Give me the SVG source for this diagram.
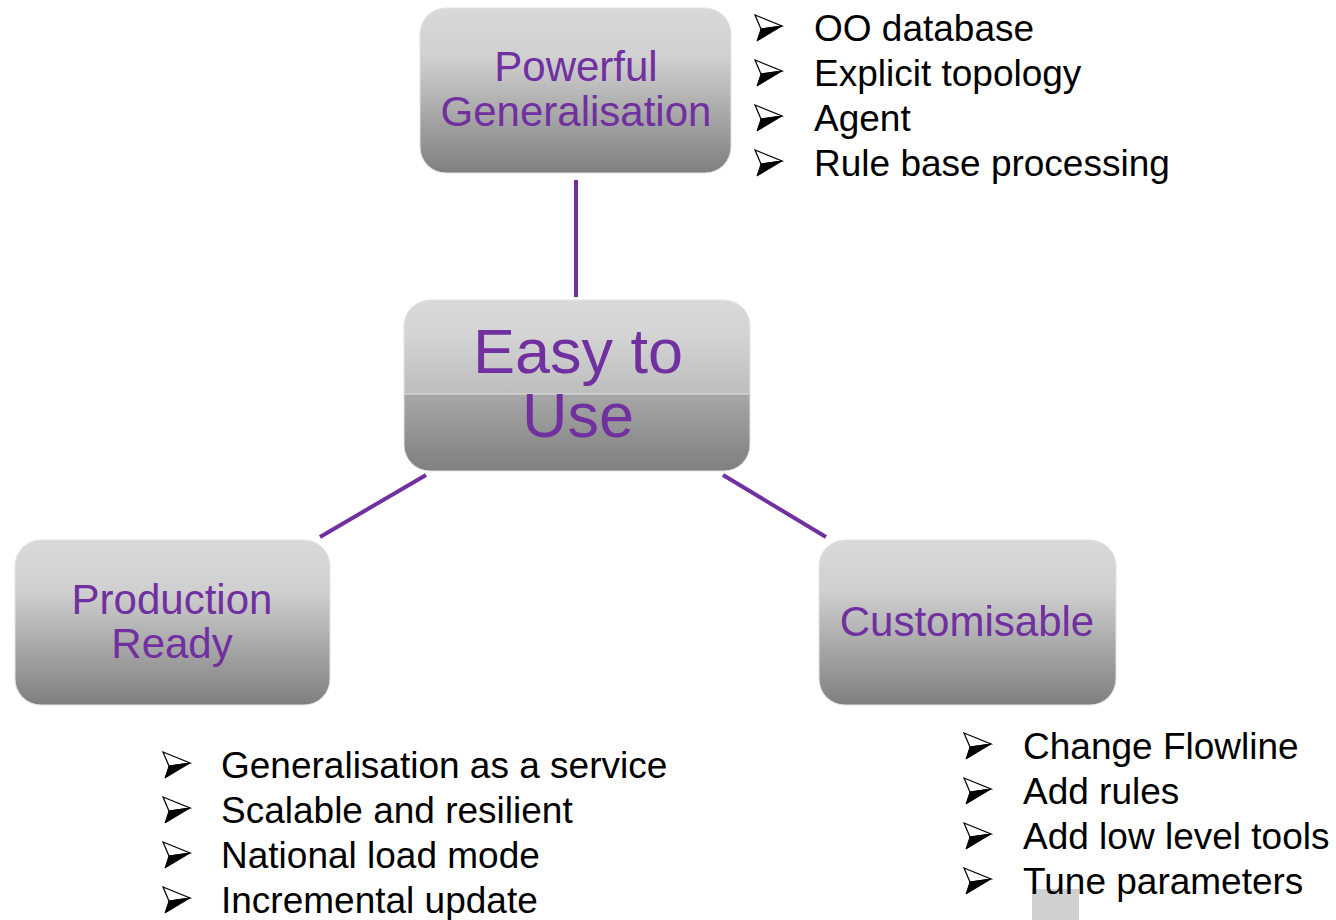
<svg xmlns="http://www.w3.org/2000/svg" width="1336" height="920" viewBox="0 0 1336 920">
  <defs>
    <linearGradient id="g" x1="0" y1="0" x2="0" y2="1">
      <stop offset="0" stop-color="#d9d9d9"/>
      <stop offset="0.3" stop-color="#d0d0d0"/>
      <stop offset="1" stop-color="#7f7f7f"/>
    </linearGradient>
    <linearGradient id="g2" x1="0" y1="0" x2="0" y2="1">
      <stop offset="0" stop-color="#d9d9d9"/>
      <stop offset="0.2" stop-color="#d4d4d4"/>
      <stop offset="0.55" stop-color="#bdbdbd"/>
      <stop offset="0.55" stop-color="#a7a7a7"/>
      <stop offset="1" stop-color="#7f7f7f"/>
    </linearGradient>
    <g id="bullet">
      <path d="M0,0 L27,11 L6,14 Z" fill="#ffffff" stroke="#000" stroke-width="1.2" stroke-linejoin="miter"/>
      <path d="M6,14 L27,11 L2,26 Z" fill="#000" stroke="#000" stroke-width="1"/>
    </g>
  </defs>
  <style>
    .box { stroke: #e4e4e4; stroke-width: 1; }
    .lbl { font-family: "Liberation Sans", Arial, sans-serif; fill: #7030a0; text-anchor: middle; }
    .item { font-family: "Liberation Sans", Arial, sans-serif; fill: #000; font-size: 37px; }
    .conn { stroke: #7030a0; stroke-width: 4; fill: none; }
  </style>
  <rect width="1336" height="920" fill="#fff"/>

  <g id="connectors">
    <line class="conn" x1="576" y1="180" x2="576" y2="297"/>
    <line class="conn" x1="320" y1="537" x2="426" y2="475"/>
    <line class="conn" x1="723" y1="475" x2="826" y2="537"/>
  </g>

  <g id="node-powerful">
    <rect class="box" x="420" y="8" width="311" height="165" rx="26" fill="url(#g)"/>
    <text class="lbl" x="576" y="81" font-size="42">Powerful</text>
    <text class="lbl" x="576" y="126" font-size="42">Generalisation</text>
  </g>

  <g id="node-easy">
    <rect class="box" x="404" y="300" width="346" height="171" rx="26" fill="url(#g2)"/>
    <line x1="405" y1="394" x2="749" y2="394" stroke="#e2e2e2" stroke-width="1"/>
    <text class="lbl" x="578" y="373" font-size="63">Easy to</text>
    <text class="lbl" x="578" y="437" font-size="63">Use</text>
  </g>

  <g id="node-production">
    <rect class="box" x="15" y="540" width="315" height="165" rx="26" fill="url(#g)"/>
    <text class="lbl" x="172" y="614" font-size="42">Production</text>
    <text class="lbl" x="172" y="658" font-size="42">Ready</text>
  </g>

  <g id="node-custom">
    <rect class="box" x="819" y="540" width="297" height="165" rx="26" fill="url(#g)"/>
    <text class="lbl" x="967" y="636" font-size="42">Customisable</text>
  </g>

  <g id="list-top">
    <use href="#bullet" x="755" y="15"/>
    <use href="#bullet" x="755" y="60"/>
    <use href="#bullet" x="755" y="105"/>
    <use href="#bullet" x="755" y="150"/>
    <text class="item" x="814" y="41">OO database</text>
    <text class="item" x="814" y="86">Explicit topology</text>
    <text class="item" x="814" y="131">Agent</text>
    <text class="item" x="814" y="176">Rule base processing</text>
  </g>

  <g id="list-bottom-left">
    <use href="#bullet" x="163" y="752"/>
    <use href="#bullet" x="163" y="797"/>
    <use href="#bullet" x="163" y="842"/>
    <use href="#bullet" x="163" y="887"/>
    <text class="item" x="221" y="778">Generalisation as a service</text>
    <text class="item" x="221" y="823">Scalable and resilient</text>
    <text class="item" x="221" y="868">National load mode</text>
    <text class="item" x="221" y="913">Incremental update</text>
  </g>

  <g id="list-bottom-right">
    <rect x="1032" y="889" width="47" height="31" fill="#d0d0d0"/>
    <use href="#bullet" x="964" y="733"/>
    <use href="#bullet" x="964" y="778"/>
    <use href="#bullet" x="964" y="823"/>
    <use href="#bullet" x="964" y="868"/>
    <text class="item" x="1023" y="759">Change Flowline</text>
    <text class="item" x="1023" y="804">Add rules</text>
    <text class="item" x="1023" y="849">Add low level tools</text>
    <text class="item" x="1023" y="894">Tune parameters</text>
  </g>
</svg>
